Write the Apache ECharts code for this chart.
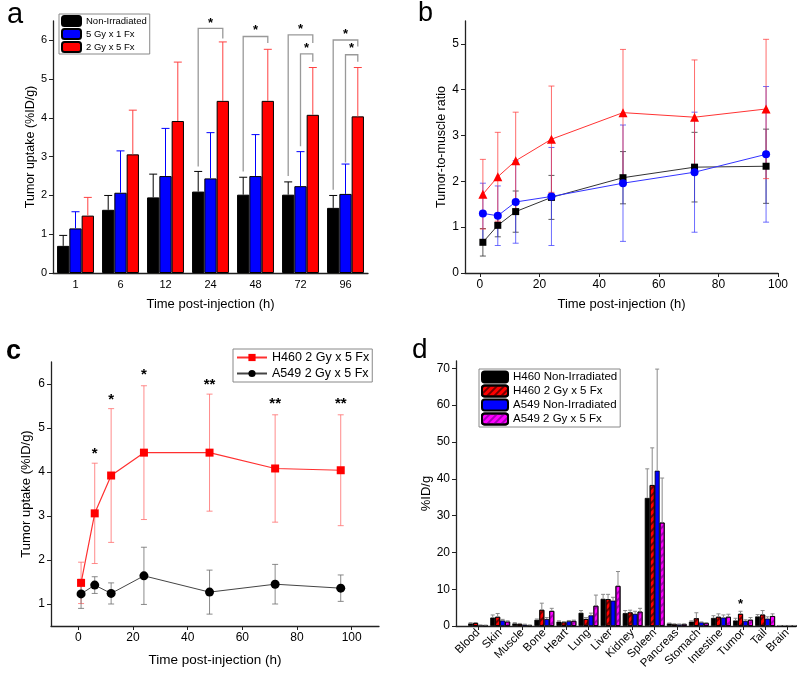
<!DOCTYPE html>
<html><head><meta charset="utf-8">
<script src="https://cdn.jsdelivr.net/npm/echarts@6/dist/echarts.min.js"></script>
<style>html,body{margin:0;padding:0;background:#fff}#c{width:800px;height:675px}</style>
</head><body><div id="c"></div>
<script>
// ---------- Panel a ----------
const timeCats = ['1', '6', '12', '24', '48', '72', '96'];
const aNonIrr    = [0.70, 1.63, 1.95, 2.10, 2.02, 2.02, 1.68];
const aNonIrrTop = [0.97, 2.00, 2.55, 2.62, 2.47, 2.35, 2.00];
const a5Gy       = [1.15, 2.07, 2.50, 2.44, 2.50, 2.24, 2.04];
const a5GyTop    = [1.58, 3.15, 3.73, 3.62, 3.57, 3.13, 2.81];
const a2Gy       = [1.48, 3.06, 3.92, 4.44, 4.44, 4.08, 4.04];
const a2GyTop    = [1.95, 4.20, 5.44, 5.96, 5.77, 5.30, 5.30];
const aYTicks = [0, 1, 2, 3, 4, 5, 6];
// [category index, left bar (0 black / 1 blue), left leg bottom, top, right leg bottom, star y]
const aBrackets = [
  [3, 0, 2.75, 6.31, 6.05, 6.45],
  [4, 0, 2.62, 6.10, 5.93, 6.25],
  [5, 0, 2.50, 6.14, 5.93, 6.28],
  [5, 1, 3.27, 5.65, 5.45, 5.78],
  [6, 0, 2.15, 6.01, 5.84, 6.16],
  [6, 1, 2.85, 5.63, 5.45, 5.78]
];

// ---------- Panel b ----------
const bTimes = [1, 6, 12, 24, 48, 72, 96];
const bNonIrr    = [0.67, 1.04, 1.34, 1.65, 2.08, 2.31, 2.33];
const bNonIrrErr = [0.30, 0.25, 0.45, 0.48, 0.57, 0.76, 0.81];
const b5Gy       = [1.30, 1.25, 1.55, 1.67, 1.96, 2.20, 2.59];
const b5GyErr    = [0.66, 0.65, 0.90, 1.07, 1.27, 1.31, 1.48];
const b2Gy       = [1.72, 2.10, 2.45, 2.92, 3.50, 3.40, 3.58];
const b2GyErr    = [0.76, 0.97, 1.06, 1.16, 1.38, 1.25, 1.52];
const bXTicks = [0, 20, 40, 60, 80, 100];
const bYTicks = [0, 1, 2, 3, 4, 5];

// ---------- Panel c ----------
const cTimes = [1, 6, 12, 24, 48, 72, 96];
const cH460    = [1.48, 3.06, 3.92, 4.44, 4.44, 4.08, 4.04];
const cH460Err = [0.47, 1.14, 1.52, 1.52, 1.33, 1.22, 1.26];
const cA549    = [1.23, 1.43, 1.24, 1.64, 1.27, 1.45, 1.36];
const cA549Err = [0.33, 0.19, 0.24, 0.65, 0.50, 0.45, 0.30];
const cStars   = ['', '*', '*', '*', '**', '**', '**'];
const cStarY   = [0, 4.41, 5.65, 6.20, 5.99, 5.54, 5.54];
const cXTicks = [0, 20, 40, 60, 80, 100];
const cYTicks = [1, 2, 3, 4, 5, 6];

// ---------- Panel d ----------
const organs = ['Blood', 'Skin', 'Muscle', 'Bone', 'Heart', 'Lung', 'Liver', 'Kidney', 'Spleen', 'Pancreas', 'Stomach', 'Intestine', 'Tumor', 'Tail', 'Brain'];
const dH460Non    = [0.7, 2.3, 0.7, 1.7, 1.2, 3.6, 7.4, 3.5, 34.8, 0.7, 1.2, 2.2, 1.5, 2.6, 0.1];
const dH460NonTop = [0.9, 3.0, 0.9, 1.9, 1.4, 4.2, 8.6, 4.2, 42.7, 0.8, 1.4, 2.8, 2.1, 3.1, 0.15];
const dH460Irr    = [0.8, 2.5, 0.55, 4.4, 1.0, 1.9, 7.3, 3.7, 38.3, 0.5, 2.1, 2.5, 3.3, 3.1, 0.1];
const dH460IrrTop = [0.95, 3.4, 0.7, 6.2, 1.2, 2.3, 8.6, 4.3, 48.4, 0.6, 3.6, 3.3, 4.0, 4.2, 0.15];
const dA549Non    = [0.25, 1.5, 0.4, 1.9, 1.3, 2.9, 6.9, 3.3, 42.2, 0.45, 1.0, 2.3, 1.4, 2.0, 0.1];
const dA549NonTop = [0.3, 1.8, 0.5, 2.3, 1.5, 3.5, 7.8, 4.0, 69.8, 0.55, 1.1, 3.0, 1.7, 2.5, 0.15];
const dA549Irr    = [0.2, 1.2, 0.2, 4.1, 1.4, 5.5, 10.9, 3.9, 28.1, 0.5, 0.8, 2.5, 1.7, 2.7, 0.1];
const dA549IrrTop = [0.25, 1.4, 0.3, 4.8, 1.6, 8.4, 14.8, 4.8, 40.2, 0.6, 0.9, 3.2, 2.3, 3.3, 0.15];
const dStarOrgan = 'Tumor';
const dStarY = 5.8;
const dYTicks = [0, 10, 20, 30, 40, 50, 60, 70];

// ---------- helpers ----------
const FONT = 'Liberation Sans, Arial, sans-serif';
const A_GAP = 0.18, D_GAP = 0.10;
const organPos = organs.map((_, i) => i + 1);

function errRender(idx, n, gap, cap, color, twoSided) {
  return function (params, api) {
    const x = api.value(0), lo = api.value(1), hi = api.value(2);
    const band = api.size([1, 0], [x, lo])[0];
    const w = n > 1 ? band * (1 - gap) / n : 0;
    const off = (idx - (n - 1) / 2) * w;
    const p1 = api.coord([x, lo]), p2 = api.coord([x, hi]);
    const cx = p1[0] + off;
    const st = { stroke: color, lineWidth: 1 };
    const ch = [
      { type: 'line', shape: { x1: cx, y1: p1[1], x2: cx, y2: p2[1] }, style: st },
      { type: 'line', shape: { x1: cx - cap, y1: p2[1], x2: cx + cap, y2: p2[1] }, style: st }
    ];
    if (twoSided) ch.push({ type: 'line', shape: { x1: cx - cap, y1: p1[1], x2: cx + cap, y2: p1[1] }, style: st });
    return { type: 'group', children: ch };
  };
}
function errSeries(name, xi, data, render, z) {
  return { type: 'custom', name: name, xAxisIndex: xi, yAxisIndex: xi, data: data,
    encode: { x: 0, y: [1, 2] }, renderItem: render, z: z || 3, silent: true };
}
function starText(x, y, t, size) {
  return { type: 'text', style: { text: t, x: x, y: y, fill: '#000', font: 'bold ' + size + 'px ' + FONT,
    align: 'center', verticalAlign: 'middle', textAlign: 'center', textVerticalAlign: 'middle' } };
}

const axisLineS = { onZero: false, lineStyle: { color: '#222', width: 1.3 } };
function xAx(gi, extra) {
  return Object.assign({ gridIndex: gi, nameLocation: 'middle', nameTextStyle: { fontSize: 13, color: '#000', fontFamily: FONT },
    axisLine: axisLineS, axisTick: { length: 4, lineStyle: { color: '#222' } }, splitLine: { show: false },
    axisLabel: { color: '#000', fontSize: 12, fontFamily: FONT, margin: 6 } }, extra);
}
function yAx(gi, extra) {
  return Object.assign({ gridIndex: gi, type: 'value', nameLocation: 'middle',
    axisLine: Object.assign({ show: true }, axisLineS), splitLine: { show: false } }, extra);
}

const option = {
  animation: false,
  backgroundColor: '#fff',
  textStyle: { fontFamily: FONT },
  grid: [
    { left: 53, top: 21, width: 315, height: 252 },
    { left: 465, top: 21, width: 313, height: 252 },
    { left: 51, top: 362, width: 328, height: 264 },
    { left: 456, top: 361, width: 340, height: 265 }
  ],
  graphic: [
    { type: 'text', left: 7, top: 0, style: { text: 'a', font: '29px ' + FONT, fill: '#000' } },
    { type: 'text', left: 418, top: 0, style: { text: 'b', font: '27px ' + FONT, fill: '#000' } },
    { type: 'text', left: 6, top: 338, style: { text: 'c', font: 'bold 27px ' + FONT, fill: '#000' } },
    { type: 'text', left: 412, top: 336, style: { text: 'd', font: '28px ' + FONT, fill: '#000' } }
  ],
  legend: [
    { data: ['Non-Irradiated', '5 Gy x 1 Fx', '2 Gy x 5 Fx'], left: 59, top: 14, orient: 'vertical',
      itemWidth: 19, itemHeight: 10, itemGap: 1, padding: [1, 3, 1, 2], borderColor: '#888', borderWidth: 1,
      textStyle: { fontSize: 9.5, color: '#000', lineHeight: 11 }, selectedMode: false },
    { data: ['H460 2 Gy x 5 Fx', 'A549 2 Gy x 5 Fx'], left: 233, top: 349, orient: 'vertical',
      itemWidth: 30, itemHeight: 9, itemGap: 1, padding: [1, 3, 1, 3], borderColor: '#888', borderWidth: 1,
      textStyle: { fontSize: 12.5, color: '#000', lineHeight: 15 }, selectedMode: false },
    { data: ['d-H460 Non-Irradiated', 'd-H460 2 Gy x 5 Fx', 'd-A549 Non-Irradiated', 'd-A549 2 Gy x 5 Fx'],
      formatter: n => n.replace(/^d-/, ''), left: 479, top: 369, orient: 'vertical',
      itemWidth: 26, itemHeight: 11, itemGap: 0, padding: [1, 3, 1, 2], borderColor: '#888', borderWidth: 1,
      textStyle: { fontSize: 11.5, color: '#000', lineHeight: 14 }, selectedMode: false }
  ],
  xAxis: [
    xAx(0, { type: 'category', data: timeCats, name: 'Time post-injection (h)', nameGap: 25,
      axisTick: { alignWithLabel: true, length: 4, lineStyle: { color: '#222' } },
      axisLabel: { color: '#000', fontSize: 11, fontFamily: FONT, margin: 6 } }),
    xAx(1, { type: 'value', min: -5, max: 100, name: 'Time post-injection (h)', nameGap: 25,
      axisLabel: { customValues: bXTicks, color: '#000', fontSize: 12, fontFamily: FONT, margin: 6 },
      axisTick: { customValues: bXTicks, length: 4, lineStyle: { color: '#222' } } }),
    xAx(2, { type: 'value', min: -10, max: 110, name: 'Time post-injection (h)', nameGap: 27,
      nameTextStyle: { fontSize: 13.5, color: '#000', fontFamily: FONT },
      axisLabel: { customValues: cXTicks, color: '#000', fontSize: 12, fontFamily: FONT, margin: 6 },
      axisTick: { customValues: cXTicks, length: 4, lineStyle: { color: '#222' } } }),
    xAx(3, { type: 'value', min: 0, max: 15.4,
      axisLabel: { customValues: organPos, formatter: v => organs[Math.round(v) - 1] || '', rotate: 45,
        color: '#000', fontSize: 11.5, fontFamily: FONT, margin: 5 },
      axisTick: { customValues: organPos, length: 4, lineStyle: { color: '#222' } } })
  ],
  yAxis: [
    yAx(0, { min: 0, max: 6.5, name: 'Tumor uptake (%ID/g)', nameGap: 16,
      nameTextStyle: { fontSize: 12.5, color: '#000' },
      axisTick: { show: true, customValues: aYTicks, length: 4, lineStyle: { color: '#222' } },
      axisLabel: { customValues: aYTicks, fontSize: 11, color: '#000', margin: 6 } }),
    yAx(1, { min: 0, max: 5.5, name: 'Tumor-to-muscle ratio', nameGap: 17,
      nameTextStyle: { fontSize: 12.5, color: '#000' },
      axisTick: { show: true, customValues: bYTicks, length: 4, lineStyle: { color: '#222' } },
      axisLabel: { customValues: bYTicks, fontSize: 12, color: '#000', margin: 6 } }),
    yAx(2, { min: 0.5, max: 6.5, name: 'Tumor uptake (%ID/g)', nameGap: 18,
      nameTextStyle: { fontSize: 13, color: '#000' },
      axisTick: { show: true, customValues: cYTicks, length: 4, lineStyle: { color: '#222' } },
      axisLabel: { customValues: cYTicks, fontSize: 12, color: '#000', margin: 6 } }),
    yAx(3, { min: 0, max: 72, name: '%ID/g', nameGap: 17,
      nameTextStyle: { fontSize: 13, color: '#000' },
      axisTick: { show: true, customValues: dYTicks, length: 4, lineStyle: { color: '#222' } },
      axisLabel: { customValues: dYTicks, fontSize: 12, color: '#000', margin: 6 } })
  ],
  series: []
};

const S = option.series;
// ---- a bars
const aSets = [
  ['Non-Irradiated', aNonIrr, aNonIrrTop, '#000000', '#000000'],
  ['5 Gy x 1 Fx', a5Gy, a5GyTop, '#0000ff', '#0000ff'],
  ['2 Gy x 5 Fx', a2Gy, a2GyTop, '#ff0000', '#ff4040']
];
aSets.forEach((s, k) => {
  S.push({ type: 'bar', name: s[0], xAxisIndex: 0, yAxisIndex: 0, data: s[1], barGap: '0%', barCategoryGap: (A_GAP * 100) + '%',
    itemStyle: { color: s[3], borderColor: '#000', borderWidth: 1 }, silent: true, z: 2 });
  S.push(errSeries('a-err' + k, 0, timeCats.map((_, i) => [i, s[1][i], s[2][i]]), errRender(k, 3, A_GAP, 4, s[4], false), 3));
});
S.push({ type: 'custom', name: 'a-brackets', xAxisIndex: 0, yAxisIndex: 0, data: aBrackets, encode: { x: 0, y: 3 }, silent: true, z: 4,
  renderItem: function (params, api) {
    const idx = api.value(0), lb = api.value(1);
    const yl = api.value(2), yt = api.value(3), yr = api.value(4), ys = api.value(5);
    const band = api.size([1, 0], [idx, yt])[0];
    const w = band * (1 - A_GAP) / 3;
    const c = api.coord([idx, yt]);
    const xl = c[0] + (lb - 1) * w, xr = c[0] + w;
    const pl = api.coord([idx, yl])[1], pr = api.coord([idx, yr])[1], ps = api.coord([idx, ys])[1];
    return { type: 'group', children: [
      { type: 'polyline', shape: { points: [[xl, pl], [xl, c[1]], [xr, c[1]], [xr, pr]] }, style: { stroke: '#999', lineWidth: 1.3, fill: null } },
      starText((xl + xr) / 2, ps, '*', 13)
    ] };
  } });

// ---- b lines
const bSets = [
  ['b-non', bNonIrr, bNonIrrErr, 'rect', 7, '#000000', '#333333', 'rgba(40,40,40,0.75)'],
  ['b-5gy', b5Gy, b5GyErr, 'circle', 8, '#0000ff', '#3333ff', 'rgba(60,60,255,0.75)'],
  ['b-2gy', b2Gy, b2GyErr, 'triangle', 9, '#ff0000', '#ff3333', 'rgba(255,60,60,0.75)']
];
bSets.forEach((s, k) => {
  S.push(errSeries(s[0] + '-err', 1, bTimes.map((t, i) => [t, s[1][i] - s[2][i], s[1][i] + s[2][i]]), errRender(0, 1, 0, 3, s[7], true), 2));
  S.push({ type: 'line', name: s[0], xAxisIndex: 1, yAxisIndex: 1, data: bTimes.map((t, i) => [t, s[1][i]]),
    symbol: s[3], symbolSize: s[4], showSymbol: true, itemStyle: { color: s[5] }, lineStyle: { color: s[6], width: 1 }, silent: true, z: 3 });
});

// ---- c lines
S.push(errSeries('c-h460-err', 2, cTimes.map((t, i) => [t, cH460[i] - cH460Err[i], cH460[i] + cH460Err[i]]), errRender(0, 1, 0, 3, 'rgba(255,110,110,0.8)', true), 2));
S.push(errSeries('c-a549-err', 2, cTimes.map((t, i) => [t, cA549[i] - cA549Err[i], cA549[i] + cA549Err[i]]), errRender(0, 1, 0, 3, 'rgba(110,110,110,0.8)', true), 2));
S.push({ type: 'line', name: 'H460 2 Gy x 5 Fx', xAxisIndex: 2, yAxisIndex: 2, data: cTimes.map((t, i) => [t, cH460[i]]),
  symbol: 'rect', symbolSize: 8, itemStyle: { color: '#ff0000' }, lineStyle: { color: '#ff3030', width: 1.2 }, silent: true, z: 3 });
S.push({ type: 'line', name: 'A549 2 Gy x 5 Fx', xAxisIndex: 2, yAxisIndex: 2, data: cTimes.map((t, i) => [t, cA549[i]]),
  symbol: 'circle', symbolSize: 9, itemStyle: { color: '#000000' }, lineStyle: { color: '#444444', width: 1 }, silent: true, z: 3 });
S.push({ type: 'custom', name: 'c-stars', xAxisIndex: 2, yAxisIndex: 2, silent: true, z: 4,
  data: cTimes.map((t, i) => [t, cStarY[i], i]).filter(d => cStars[d[2]]), encode: { x: 0, y: 1 },
  renderItem: function (params, api) {
    const p = api.coord([api.value(0), api.value(1)]);
    return starText(p[0], p[1], cStars[api.value(2)], 15);
  } });

// ---- d bars
const dSets = [
  ['d-H460 Non-Irradiated', dH460Non, dH460NonTop, '#000000', null],
  ['d-H460 2 Gy x 5 Fx', dH460Irr, dH460IrrTop, '#ff0000', 'rgba(90,0,0,0.85)'],
  ['d-A549 Non-Irradiated', dA549Non, dA549NonTop, '#0000ff', null],
  ['d-A549 2 Gy x 5 Fx', dA549Irr, dA549IrrTop, '#ff00ff', 'rgba(150,0,170,0.85)']
];
dSets.forEach((s, k) => {
  const st = { color: s[3], borderColor: '#000', borderWidth: 0.8 };
  if (s[4]) st.decal = { symbol: 'rect', symbolSize: 1, color: s[4], dashArrayX: [1, 0], dashArrayY: [1.2, 2.6], rotation: -Math.PI / 4 };
  S.push({ type: 'bar', name: s[0], xAxisIndex: 3, yAxisIndex: 3, data: organPos.map((p, i) => [p, s[1][i]]),
    barGap: '0%', barCategoryGap: (D_GAP * 100) + '%', itemStyle: st, silent: true, z: 2 });
  S.push(errSeries('d-err' + k, 3, organPos.map((p, i) => [p, s[1][i], s[2][i]]), errRender(k, 4, D_GAP, 2, '#8a8a8a', false), 3));
});
S.push({ type: 'custom', name: 'd-star', xAxisIndex: 3, yAxisIndex: 3, silent: true, z: 4,
  data: [[organs.indexOf(dStarOrgan) + 1, dStarY]], encode: { x: 0, y: 1 },
  renderItem: function (params, api) {
    const x = api.value(0);
    const band = api.size([1, 0], [x, 0])[0];
    const w = band * (1 - D_GAP) / 4;
    const p = api.coord([x, api.value(1)]);
    return starText(p[0] - 0.5 * w, p[1], '*', 13);
  } });

const chart = echarts.init(document.getElementById('c'), null, { renderer: 'canvas' });
chart.setOption(option);
</script></body></html>
